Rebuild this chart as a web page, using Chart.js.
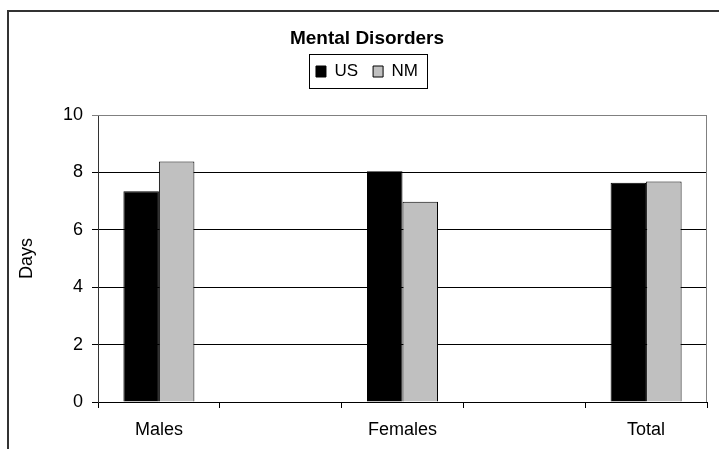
<!DOCTYPE html>
<html><head><meta charset="utf-8">
<script src="https://cdn.jsdelivr.net/npm/chart.js@4.4.0/dist/chart.umd.min.js"></script>
<style>html,body{margin:0;padding:0;background:#fff;overflow:hidden}#wrap{width:719px;height:449px;position:relative}</style>
</head><body><div id="wrap"><canvas id="c" width="719" height="449"></canvas></div>
<script>
const categories = ['Males', '', 'Females', '', 'Total'];
const usValues = [7.34, null, 8.04, null, 7.64];
const nmValues = [8.38, null, 6.98, null, 7.68];
const seriesNames = ['US', 'NM'];
const yTicks = [0, 2, 4, 6, 8, 10];
const chartTitle = 'Mental Disorders';
const yAxisTitle = 'Days';

const FONT = 'Arial, "Liberation Sans", sans-serif';

const framePlugin = {
  id: 'frame',
  afterInit(chart) {
    const lg = chart.legend;
    if (lg) {
      const orig = lg.fit.bind(lg);
      lg.fit = function () { orig(); this.height += 25; };
    }
  },
  beforeDraw(chart) {
    const ctx = chart.ctx;
    ctx.save();
    ctx.fillStyle = '#fff';
    ctx.fillRect(0, 0, chart.width, chart.height);
    ctx.strokeStyle = '#333';
    ctx.lineWidth = 2;
    ctx.beginPath();
    ctx.moveTo(8, chart.height);
    ctx.lineTo(8, 11);
    ctx.lineTo(chart.width, 11);
    ctx.stroke();
    ctx.restore();
  },
  afterDraw(chart) {
    const ctx = chart.ctx, a = chart.chartArea;
    ctx.save();
    ctx.strokeStyle = '#808080';
    ctx.lineWidth = 1;
    ctx.beginPath();
    ctx.moveTo(Math.round(a.left), Math.round(a.top) + 0.5);
    ctx.lineTo(Math.round(a.right) - 0.5, Math.round(a.top) + 0.5);
    ctx.lineTo(Math.round(a.right) - 0.5, Math.round(a.bottom));
    ctx.stroke();
    const hb = chart.legend && chart.legend.legendHitBoxes;
    if (hb && hb.length) {
      const last = hb[hb.length - 1];
      const l = hb[0].left - 7, r = last.left + last.width + 9;
      const t = hb[0].top - 9, b = hb[0].top + hb[0].height + 8;
      ctx.strokeStyle = '#000';
      ctx.strokeRect(Math.round(l) + 0.5, Math.round(t) + 0.5, Math.round(r - l), Math.round(b - t));
    }
    ctx.restore();
  }
};

new Chart(document.getElementById('c'), {
  type: 'bar',
  data: {
    labels: categories,
    datasets: [
      { label: seriesNames[0], data: usValues, backgroundColor: '#000000', borderColor: '#000000', borderWidth: 1, categoryPercentage: 0.583, barPercentage: 1.0 },
      { label: seriesNames[1], data: nmValues, backgroundColor: '#C0C0C0', borderColor: '#000000', borderWidth: 1, categoryPercentage: 0.583, barPercentage: 1.0 }
    ]
  },
  options: {
    responsive: false,
    animation: false,
    devicePixelRatio: 1,
    layout: { padding: { left: 27, right: 12, top: 29, bottom: 0 } },
    plugins: {
      title: { display: true, text: chartTitle, color: '#000', font: { family: FONT, size: 19, weight: 'bold', lineHeight: 1 }, padding: 0 },
      legend: { display: true, position: 'top', labels: { color: '#000', font: { family: FONT, size: 17 }, boxWidth: 10, boxHeight: 11, padding: 15 } },
      tooltip: { enabled: false }
    },
    scales: {
      x: {
        grid: { display: true, drawOnChartArea: false, drawTicks: true, tickLength: 6, color: '#000', offset: true },
        border: { display: true, color: '#000', width: 1 },
        ticks: { color: '#000', font: { family: FONT, size: 18 }, padding: 11, maxRotation: 0, autoSkip: false },
        afterFit(s) { s.height = 47; }
      },
      y: {
        min: 0, max: 10,
        afterBuildTicks(s) { s.ticks = yTicks.map(v => ({ value: v })); },
        ticks: { color: '#000', font: { family: FONT, size: 18 }, padding: 9 },
        grid: { color: c => (c.tick && c.tick.value === 10) ? '#808080' : '#000', tickLength: 6 },
        border: { display: true, color: '#333', width: 1 },
        title: { display: true, text: yAxisTitle, color: '#000', font: { family: FONT, size: 18 }, padding: { top: -11, bottom: 0 } },
        afterFit(s) { s.width = 71; }
      }
    }
  },
  plugins: [framePlugin]
});
</script>
</body></html>
